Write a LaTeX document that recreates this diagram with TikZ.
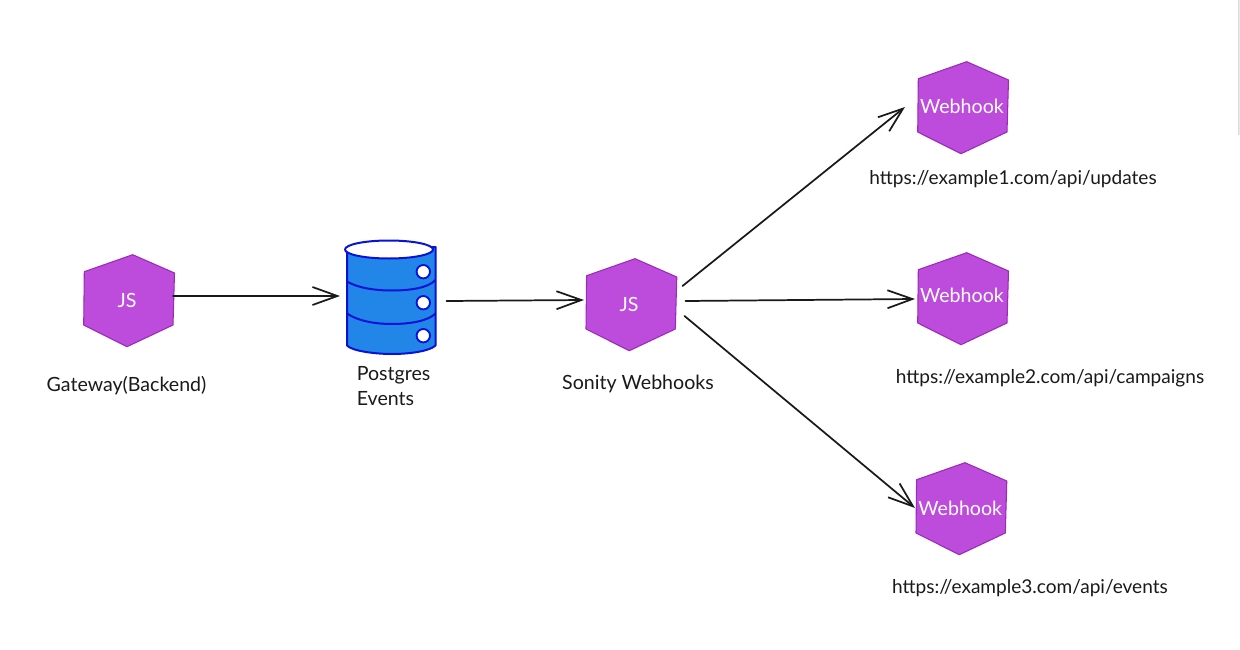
\documentclass[tikz,border=0pt]{standalone}
\usepackage{fontspec}
\setmainfont{Lato}
\usetikzlibrary{arrows.meta}
\definecolor{hexfill}{HTML}{BD4BDC}
\definecolor{hexline}{HTML}{9A2BB8}
\definecolor{dbfill}{HTML}{2285E8}
\definecolor{dbline}{HTML}{0A12D8}
\definecolor{ink}{HTML}{1A1A1A}
\tikzset{
  hexshape/.style={fill=hexfill,draw=hexline,line width=0.8pt,line join=round},
  hexbase/.style={inner sep=0pt,minimum width=67.5pt,minimum height=69pt},
  hexlabel/.style={text=white,font=\fontsize{14.7pt}{17pt}\selectfont,inner sep=0pt},
  caption/.style={text=ink,font=\fontsize{14.7pt}{18.75pt}\selectfont,inner sep=0pt,align=left},
  urlcaption/.style={text=ink,font=\fontsize{14.3pt}{18.75pt}\selectfont,inner sep=0pt},
  link/.style={draw=ink,line width=1.3pt,line cap=round,-{Straight Barb[length=18.75pt,width=13.5pt,line width=1.3pt]}},
  dbshape/.style={fill=dbfill,draw=dbline,line width=1.5pt,line join=round},
  dbband/.style={draw=dbline,line width=1.5pt},
  dbhole/.style={fill=white,draw=dbline,line width=1.4pt},
}
\newcommand{\hexat}[5]{%
  \path[hexshape,shift={(#2,#3)}] (4,-46) -- (45.8,-27.7) -- (44.3,24.3) -- (-1.7,46) -- (-45,24.3) -- (-44.4,-29) -- cycle;
  \node[hexbase] (#1) at (#2,#3) {};
  \node[hexlabel] (#1-text) at ([shift={#5}]#1.center) {#4};}
\begin{document}
\begin{tikzpicture}[x=0.75pt,y=-0.75pt]
\useasboundingbox (0,0) rectangle (1240,650);
\fill[white] (0,0) rectangle (1240,650);
\shade[left color=black!14,right color=black!3] (1238,0) rectangle (1240,134);
% hexagons
\hexat{gw}{128.7}{300.7}{JS}{(-1.7,0)}
\hexat{sw}{631}{304.7}{JS}{(-2,0)}
\hexat{wa}{962.7}{107.7}{Webhook}{(-0.7,-1.5)}
\hexat{wb}{962.7}{298.7}{Webhook}{(-0.7,-3.5)}
\hexat{wc}{961}{508.7}{Webhook}{(-0.7,0)}
% database
\node[inner sep=0pt,minimum width=66.75pt,minimum height=85.5pt] (db) at (391,297) {};
\path[dbshape] (347,248) -- (347,345.5) .. controls (352,351) and (375,354) .. (392,354) .. controls (410,354) and (430,351) .. (435.5,345.5) -- (435.5,247) -- cycle;
\draw[dbband] (347,281.5) .. controls (358,288) and (375,290.5) .. (392,290.5) .. controls (410,290.5) and (428,288) .. (435.5,280);
\draw[dbband] (347,313.5) .. controls (358,321) and (375,324) .. (392,324) .. controls (410,324) and (428,321) .. (435.5,313.5);
\path[dbshape,fill=white] (389,249.5) ellipse [x radius=44,y radius=9];
\path[dbhole] (423.3,271.7) circle [radius=6.7];
\path[dbhole] (423.3,302.7) circle [radius=6.7];
\path[dbhole] (423.3,335.7) circle [radius=6.7];
% connectors
\draw[link] ([shift={(44.3,-4.7)}]gw.center) -- ([shift={(-51,-1)}]db.center);
\draw[link] ([shift={(55.5,4)}]db.center) -- ([shift={(-47,-4.7)}]sw.center);
\draw[link] ([shift={(51.5,-18.7)}]sw.center) -- ([shift={(-57.7,-0.7)}]wa.center);
\draw[link] ([shift={(54.5,-3.7)}]sw.center) -- ([shift={(-47.7,0.3)}]wb.center);
\draw[link] ([shift={(53.5,11.3)}]sw.center) -- ([shift={(-46,-0.7)}]wc.center);
% captions
\node[caption] (t1) at (126.5,385.5) {Gateway(Backend)};
\node[caption,anchor=north west] (t2) at (356.5,366) {Postgres\\Events};
\node[caption] (t3) at (638,384) {Sonity Webhooks};
\node[urlcaption] (t4) at (1013,179) {https://example1.com/api/updates};
\node[urlcaption] (t5) at (1050,378) {https://example2.com/api/campaigns};
\node[urlcaption] (t6) at (1030,588) {https://example3.com/api/events};
\end{tikzpicture}
\end{document}
